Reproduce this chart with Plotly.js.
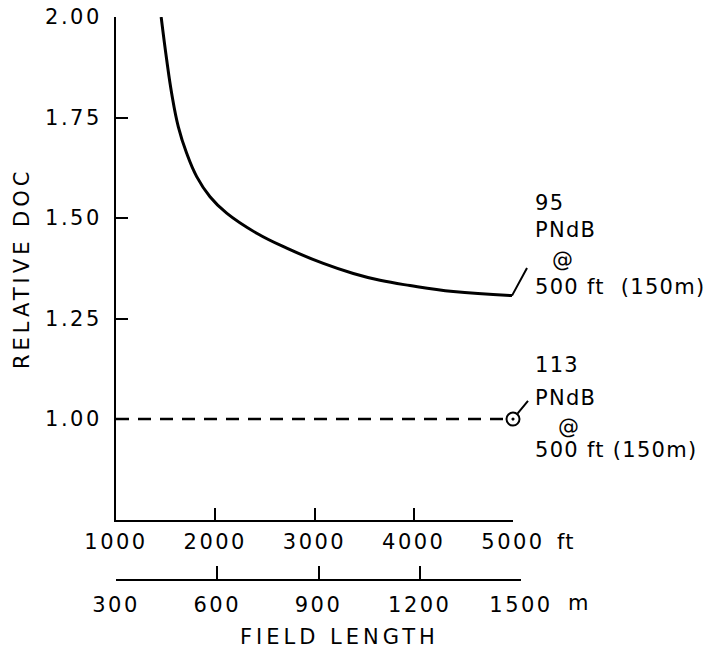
<!DOCTYPE html>
<html>
<head>
<meta charset="utf-8">
<script src="https://cdn.plot.ly/plotly-3.0.1.min.js"></script>
<style>
  body { margin: 0; background: #fff; }
  #chart { width: 706px; height: 656px; }
  .xtick text, .ytick text, .x2tick text { letter-spacing: 2.5px; }
  .annotation-text { letter-spacing: 1.3px; }
</style>
</head>
<body>
<div id="chart"></div>
<script>
// ---- data ----
const curveFieldLengthFt = [1455, 1511, 1561, 1628, 1712, 1813, 1947, 2115, 2418, 2720, 3089, 3391, 3660, 3962, 4398, 4990];
const curveRelativeDoc   = [2.00, 1.893, 1.810, 1.727, 1.661, 1.603, 1.553, 1.512, 1.462, 1.425, 1.387, 1.362, 1.345, 1.332, 1.317, 1.307];
const baseFieldLengthFt  = [1000, 4935];
const baseRelativeDoc    = [1.00, 1.00];
const baseEndFt          = [5000];
const baseEndDoc         = [1.00];
const ftTicks  = [1000, 2000, 3000, 4000, 5000];
const mTicks   = [300, 600, 900, 1200, 1500];
const docTicks = [1.00, 1.25, 1.50, 1.75, 2.00];
const upperLabel = ['95', 'PNdB', '@', '500 ft  (150m)'];
const lowerLabel = ['113', 'PNdB', '@', '500 ft (150m)'];

const FONT = 'DejaVu Sans, sans-serif';
const INK = '#000';

const traces = [
  { x: curveFieldLengthFt, y: curveRelativeDoc, mode: 'lines', type: 'scatter',
    line: { color: INK, width: 3, shape: 'spline', smoothing: 1.2 }, hoverinfo: 'skip', showlegend: false },
  { x: baseFieldLengthFt, y: baseRelativeDoc, mode: 'lines', type: 'scatter',
    line: { color: INK, width: 2.5, dash: '13px,9px' }, hoverinfo: 'skip', showlegend: false },
  { x: baseEndFt, y: baseEndDoc, mode: 'markers', type: 'scatter', cliponaxis: false,
    marker: { symbol: 'circle-dot', size: 13, color: '#fff', line: { color: INK, width: 2 } },
    hoverinfo: 'skip', showlegend: false },
  // helper so the metre scale is drawn
  { x: mTicks, y: mTicks.map(() => null), xaxis: 'x2', yaxis: 'y', mode: 'markers', type: 'scatter',
    hoverinfo: 'skip', showlegend: false }
];

function lbl(text, x, y, size) {
  return { text: text, xref: 'paper', yref: 'paper', x: x, y: y, xanchor: 'left', yanchor: 'middle',
           showarrow: false, font: { family: FONT, size: size || 21, color: INK } };
}

const annotations = [
  // connector from curve end to label
  { x: curveFieldLengthFt[curveFieldLengthFt.length - 1], y: curveRelativeDoc[curveRelativeDoc.length - 1],
    xref: 'x', yref: 'y', text: ' ', showarrow: true, arrowhead: 0, arrowwidth: 2, arrowcolor: INK,
    ax: 19, ay: -35, standoff: 0 },
  // connector from circle to label
  { x: baseEndFt[0], y: baseEndDoc[0], xref: 'x', yref: 'y', text: ' ', showarrow: true, arrowhead: 0,
    arrowwidth: 2, arrowcolor: INK, ax: 19, ay: -23, standoff: 7 },
  lbl(upperLabel[0], 1.030, 0.681),
  lbl(upperLabel[1], 1.030, 0.635),
  lbl(upperLabel[2], 1.072, 0.583),
  lbl(upperLabel[3], 1.030, 0.537),
  lbl(lowerLabel[0], 1.030, 0.403),
  lbl(lowerLabel[1], 1.030, 0.346),
  lbl(lowerLabel[2], 1.086, 0.297),
  lbl(lowerLabel[3], 1.030, 0.257),
  lbl('ft', 1.085, 0.0995, 21),
  lbl('m', 1.112, -0.005, 21),
  { text: '<span style="letter-spacing:4px">FIELD LENGTH</span>', xref: 'paper', yref: 'paper',
    x: 0.553, y: -0.0635, xanchor: 'center', yanchor: 'middle', showarrow: false,
    font: { family: FONT, size: 21, color: INK } }
];

const axisCommon = {
  showgrid: false, zeroline: false, showline: true, linecolor: INK, linewidth: 2,
  ticks: 'inside', ticklen: 12, tickwidth: 2, tickcolor: INK,
  tickfont: { family: FONT, size: 21, color: INK }, fixedrange: true
};

const layout = {
  width: 706, height: 656,
  margin: { l: 116, r: 185, t: 17, b: 56, pad: 0 },
  paper_bgcolor: '#fff', plot_bgcolor: 'rgba(0,0,0,0)',
  showlegend: false,
  font: { family: FONT, color: INK },
  xaxis: Object.assign({}, axisCommon, {
    domain: [0, 397 / 405], range: [1000, 5000], tickvals: ftTicks, ticktext: ftTicks.map(String),
    anchor: 'y', ticklabelstandoff: 2
  }),
  xaxis2: Object.assign({}, axisCommon, {
    domain: [0, 1], range: [300, 1500], tickvals: mTicks, ticktext: mTicks.map(String),
    anchor: 'free', position: 0.0343, side: 'bottom', ticklen: 13, ticklabelstandoff: 6
  }),
  yaxis: Object.assign({}, axisCommon, {
    domain: [0.138, 1], range: [0.75, 2.0], tickvals: docTicks, ticktext: docTicks.map(v => v.toFixed(2)),
    anchor: 'x', ticklabelstandoff: 8,
    title: { text: '<span style="letter-spacing:4px">RELATIVE DOC</span>', font: { family: FONT, size: 21, color: INK }, standoff: 10 }
  }),
  annotations: annotations
};

Plotly.newPlot('chart', traces, layout, { displayModeBar: false, staticPlot: true });
</script>
</body>
</html>
